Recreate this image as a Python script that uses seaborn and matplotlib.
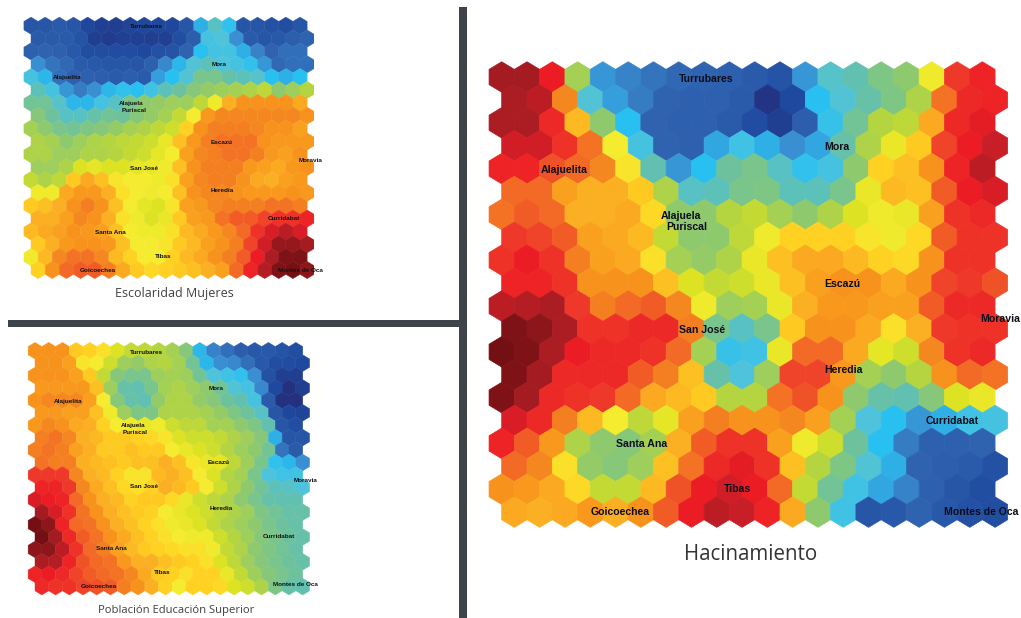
import pandas as pd
import matplotlib
matplotlib.use('Agg')
import matplotlib.pyplot as plt
from matplotlib.colors import LinearSegmentedColormap
from matplotlib.patches import Rectangle
import seaborn as sns

# Values: 0 = darkest blue, 100 = darkest red
HACINAMIENTO = [
    [96,96,88,53,28,25,23,21,20,19,17,14,28,40,43,48,50,63,84,87],
    [95,93,77,39,29,24,20,19,19,17,2,10,33,39,44,48,54,79,86,87],
    [95,95,86,71,50,33,20,19,19,17,11,6,18,35,46,55,56,73,86,89],
    [91,91,85,79,64,37,20,19,30,36,31,27,30,44,54,62,69,83,88,92],
    [87,87,82,80,77,65,43,28,33,45,47,41,34,37,50,68,70,76,87,93],
    [80,80,74,72,72,69,54,41,42,47,48,42,42,47,62,71,70,81,88,90],
    [79,81,80,72,72,73,67,50,50,55,57,53,50,54,60,63,62,74,85,86],
    [84,83,81,74,73,71,57,50,50,56,63,68,68,68,65,63,67,81,85,85],
    [85,88,85,78,74,73,66,53,51,54,62,70,73,73,71,68,67,76,85,85],
    [87,87,85,76,76,76,70,60,57,58,62,70,74,76,76,73,76,83,84,82],
    [93,94,95,84,78,80,81,77,63,52,53,62,72,75,75,74,74,81,86,86],
    [99,98,95,85,85,86,86,78,47,41,47,69,76,76,73,66,72,84,85,85],
    [100,99,95,88,86,86,85,80,53,35,36,62,80,80,73,61,58,77,85,86],
    [99,96,86,86,86,81,78,70,44,38,52,83,83,75,53,50,55,76,80,79],
    [99,96,86,85,84,80,73,71,69,55,55,79,82,76,50,44,43,49,60,62],
    [90,86,78,71,64,56,61,74,78,76,76,77,74,53,38,33,28,31,36,37],
    [87,81,75,54,50,49,53,72,81,85,85,74,63,58,45,33,24,19,19,20],
    [80,77,66,51,49,52,70,79,86,89,85,70,55,48,39,31,20,18,17,13],
    [76,75,73,67,57,57,71,82,88,91,88,80,57,46,36,30,25,19,15,12],
    [73,72,73,75,72,76,81,88,93,92,87,73,50,36,15,16,20,16,13,12],
]

ESCOLARIDAD = [
    [15,15,17,15,9,7,6,8,9,9,9,15,31,41,34,15,15,13,12,15],
    [17,17,17,14,6,5,7,7,6,7,12,18,37,38,27,17,15,16,18,20],
    [19,20,19,16,12,12,11,11,10,13,14,20,33,37,37,31,25,20,22,22],
    [27,23,21,17,16,15,15,15,19,26,32,39,42,38,37,34,28,21,22,22],
    [37,32,22,19,19,18,17,18,17,29,33,39,47,47,44,42,40,33,31,33],
    [42,37,28,24,27,32,34,33,36,42,45,49,51,52,53,54,56,50,52,55],
    [46,46,40,32,32,37,41,47,50,51,52,52,56,63,72,76,76,76,76,73],
    [49,45,41,41,44,46,45,49,51,53,57,64,75,77,77,77,77,77,77,76],
    [53,50,47,46,48,49,51,53,54,56,58,68,76,78,78,78,77,76,76,74],
    [54,53,50,52,54,55,56,57,58,62,70,75,78,79,79,79,76,75,75,75],
    [54,54,52,52,54,54,55,57,58,61,64,74,77,78,79,79,78,75,74,76],
    [52,52,54,60,61,60,60,61,62,63,70,76,78,78,78,75,74,73,75,76],
    [57,54,56,69,73,70,65,64,64,63,66,74,77,78,78,76,73,72,74,75],
    [63,63,73,75,75,72,66,64,63,64,70,76,77,77,76,75,75,75,76,75],
    [69,70,72,76,78,76,70,64,61,60,65,74,75,77,78,78,78,79,79,78],
    [72,72,74,77,76,72,66,63,60,62,69,74,75,79,81,81,83,85,85,87],
    [71,73,74,76,75,74,70,64,63,63,66,71,73,75,77,80,85,90,93,90],
    [69,72,75,76,76,75,70,64,64,65,69,71,74,76,78,83,91,97,97,96],
    [63,71,77,79,79,77,71,68,64,64,68,71,73,76,78,81,88,95,99,99],
    [68,76,80,81,81,78,73,69,67,68,69,70,72,74,80,87,94,99,100,98],
]

EDUCACION = [
    [76,76,76,69,68,66,60,57,56,55,53,49,32,25,22,18,16,16,14,12],
    [76,76,74,65,64,58,52,51,54,55,53,46,32,27,26,22,16,12,11,10],
    [76,76,76,74,69,57,49,47,47,52,53,52,46,38,36,34,27,13,6,6],
    [75,75,75,75,70,52,44,43,47,53,54,52,50,46,39,37,26,10,1,6],
    [76,77,77,77,74,64,49,44,43,51,54,54,51,49,45,43,37,17,1,1],
    [75,75,74,74,70,63,52,48,48,54,54,54,53,51,48,45,41,15,9,8],
    [75,77,76,73,72,68,64,63,62,63,58,56,56,53,53,50,48,43,15,12],
    [78,79,77,72,71,69,69,68,67,65,60,58,58,57,54,52,49,31,15,15],
    [78,79,78,74,72,69,69,70,69,69,64,62,60,58,55,52,50,46,23,17],
    [79,78,78,72,71,70,69,70,70,72,70,65,62,61,56,52,47,34,32,27],
    [84,84,84,77,72,71,68,65,65,71,72,70,64,60,55,53,47,38,36,36],
    [87,87,84,77,73,70,67,66,68,72,71,69,64,58,54,50,46,42,41,38],
    [90,88,87,80,76,72,71,68,69,69,67,62,58,56,54,50,47,44,43,43],
    [96,90,85,79,76,72,70,69,68,64,62,60,58,56,54,52,48,46,44,44],
    [100,98,87,80,79,76,72,70,68,66,63,62,60,57,54,52,50,47,45,44],
    [100,96,86,81,79,76,73,70,68,66,64,63,63,58,55,52,49,47,45,44],
    [98,98,93,85,80,78,74,71,69,68,67,66,66,63,57,54,50,48,46,44],
    [95,94,87,82,80,79,75,72,72,70,69,68,66,60,56,52,49,47,45,44],
    [87,88,86,83,81,80,79,77,73,69,68,66,68,68,62,57,52,49,47,45],
    [86,85,85,83,82,81,78,76,72,68,64,68,68,67,60,58,54,48,44,43],
]

NAMES = ['Turrubares', 'Mora', 'Alajuelita', 'Alajuela', 'Puriscal', 'Escazú', 'San José',
         'Moravia', 'Heredia', 'Santa Ana', 'Curridabat', 'Tibas', 'Goicoechea', 'Montes de Oca']

W, H = 1021, 618

COLOR_STOPS = [
    (0, '#232f7c'), (10, '#1f4a9f'), (20, '#2f63b0'), (27, '#3a8fd2'), (33, '#28c0f0'),
    (38, '#4fc3dc'), (43, '#60c0b0'), (50, '#8cc870'), (55, '#b5d53f'), (60, '#dde322'),
    (64, '#f5ec2f'), (68, '#ffd322'), (72, '#fbb022'), (76, '#f7941d'), (80, '#f26a25'),
    (84, '#ee3a2a'), (88, '#ed1c24'), (92, '#c81e27'), (96, '#a51c22'), (100, '#741013'),
]
cmap = LinearSegmentedColormap.from_list('som', [(v / 100, c) for v, c in COLOR_STOPS])


def draw_map(fig, values, x0, y0, dx, dy, edge):
    # One axes per map, placed so that grid steps come out as dx, dy pixels
    ax = fig.add_axes([(x0 - dx) / W, 1 - (y0 + 20 * dy) / H, 21 * dx / W, 21 * dy / H])
    rows = []
    for r, row in enumerate(values):
        for c, v in enumerate(row):
            rows.append({'col': c + 0.5 * (r % 2), 'row': r, 'value': v})
    df = pd.DataFrame(rows)

    hex_h = dy * 4 / 3
    w = dx / hex_h
    verts = [(0, 1), (w, 0.5), (w, -0.5), (0, -1), (-w, -0.5), (-w, 0.5), (0, 1)]
    # Edge in the same colour closes the light seams between neighbours
    sns.scatterplot(data=df, x='col', y='row', hue='value', palette=cmap, hue_norm=(0, 100),
                    marker=verts, s=(hex_h * 0.72) ** 2, edgecolor='face', linewidth=edge,
                    legend=False, ax=ax)
    # Marker snapping makes the small hexagons jagged
    ax.collections[0].set_snap(False)
    ax.set_xlim(-1, 20)
    ax.set_ylim(20, -1)
    ax.axis('off')


sns.set_style('white')
plt.rcParams['font.family'] = ['Liberation Sans', 'DejaVu Sans']

fig = plt.figure(figsize=(W / 100, H / 100), dpi=100, facecolor='white')

draw_map(fig, HACINAMIENTO, 501.7, 77, 25.3, 22.9, 0.5)
draw_map(fig, ESCOLARIDAD, 31, 25.7, 14.16, 12.86, 0.3)
draw_map(fig, EDUCACION, 35, 350.7, 13.73, 12.42, 0.3)

# Overlay in pixel coordinates for the bars and the texts
top = fig.add_axes([0, 0, 1, 1])
top.set_xlim(0, W)
top.set_ylim(H, 0)
top.axis('off')
top.add_patch(Rectangle((459, 7), 8, 611, color='#3f444a', lw=0))
top.add_patch(Rectangle((8, 320), 451, 7, color='#3f444a', lw=0))

big_pos = [(706, 79), (837, 147), (564, 170), (681, 216), (687, 227), (842, 284), (702, 330),
           (1000, 319), (843, 370), (642, 444), (952, 421), (737, 489), (620, 512), (981, 512)]
upper_pos = [(146, 27), (219, 65), (67, 78), (131, 103), (134, 110), (222, 142), (144, 168),
             (311, 161), (222, 190), (110, 232), (284, 219), (163, 257), (98, 270), (300, 270)]
lower_pos = [(146, 352), (216, 389), (68, 401), (133, 426), (135, 432), (219, 463), (144, 487),
             (306, 481), (221, 509), (111, 549), (279, 536), (162, 573), (99, 586), (295, 585)]

for name, (x, y) in zip(NAMES, big_pos):
    top.text(x, y, name, fontsize=7.6, fontweight='bold', color='#0d0d1a', ha='center', va='center')
for name, (x, y) in zip(NAMES, upper_pos):
    top.text(x, y, name, fontsize=4.6, fontweight='bold', color='#111111', ha='center', va='center')
for name, (x, y) in zip(NAMES, lower_pos):
    top.text(x, y, name, fontsize=4.6, fontweight='bold', color='#111111', ha='center', va='center')

top.text(751, 555, 'Hacinamiento', fontsize=14.8, family='Open Sans', color='#333333', ha='center', va='center')
top.text(174, 294, 'Escolaridad Mujeres', fontsize=9, family='Open Sans', color='#404040', ha='center', va='center')
top.text(176, 610, 'Población Educación Superior', fontsize=8.1, family='Open Sans', color='#404040', ha='center', va='center')

fig.savefig('out.png', dpi=100)
